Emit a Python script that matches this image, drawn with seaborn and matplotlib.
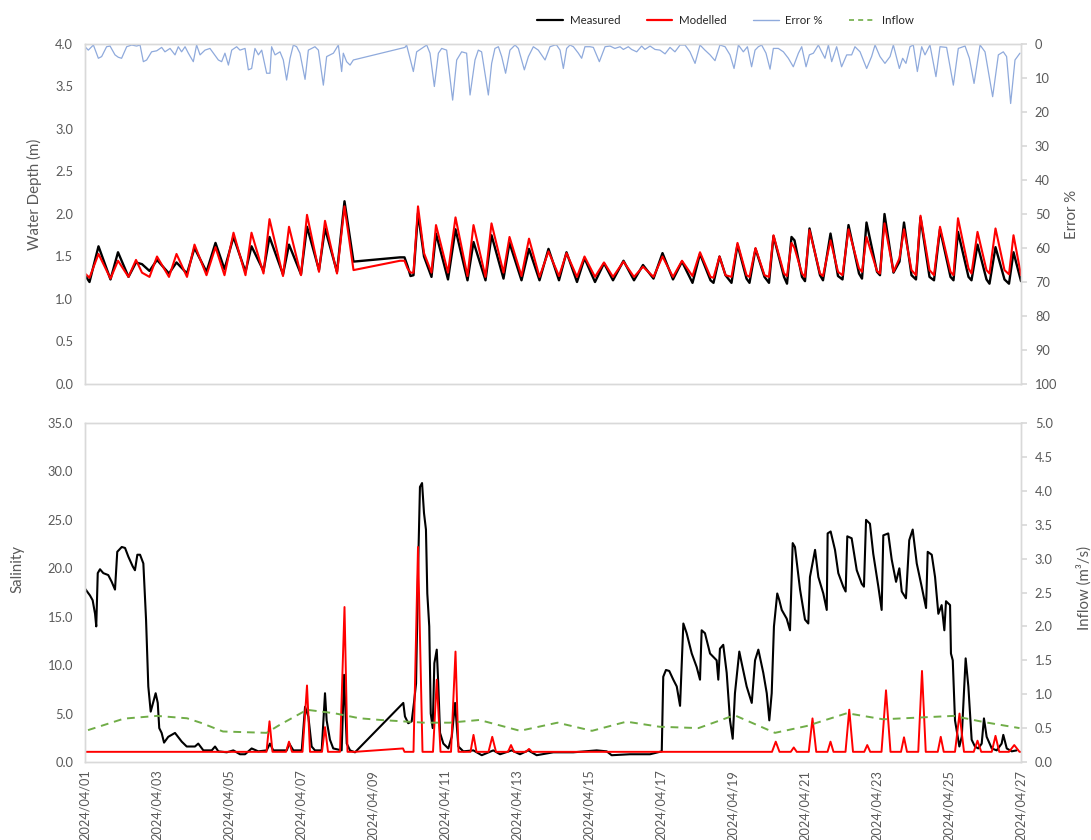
import matplotlib
matplotlib.use("Agg")
import matplotlib.pyplot as plt
import matplotlib.dates as mdates
from matplotlib.lines import Line2D
from matplotlib.ticker import FormatStrFormatter, MultipleLocator
import numpy as np
import pandas as pd
import seaborn as sns

# ---------------------------------------------------------------- data
START = pd.Timestamp("2024-04-01")
END = pd.Timestamp("2024-04-27")

# Water depth (m): hours since 2024/04/01 00:00
depth_hours = [
    0, 3, 9, 17, 22, 29, 34, 38, 43, 48,
    56, 61, 68, 73, 81, 87, 93, 99, 107, 111,
    119, 123, 132, 136, 144, 148, 156, 160, 168, 173,
    179,
    210, 213, 215, 217, 219, 222, 226, 231, 234, 242,
    247, 255, 259, 267, 271, 279, 283, 291, 296, 303,
    309, 316, 321, 328, 333, 340, 346, 352, 359, 366,
    372, 379, 385, 392, 398, 405, 410,
    417, 419, 423, 427, 431, 435, 441, 443, 447, 453,
    456, 459, 466, 468, 471, 473, 478, 480, 483, 490,
    492, 497, 502, 505, 509, 516, 518, 521, 528, 530,
    533, 539, 543, 546, 551, 554, 557, 563, 566, 570,
    577, 579, 582, 589, 591, 595, 601, 603, 607, 613,
    616, 619, 624,
]
depth_measured = [
    1.28, 1.20, 1.62, 1.23, 1.55, 1.26, 1.43, 1.41, 1.33, 1.46,
    1.30, 1.43, 1.30, 1.60, 1.32, 1.66, 1.35, 1.73, 1.32, 1.62,
    1.33, 1.73, 1.29, 1.64, 1.29, 1.85, 1.34, 1.83, 1.32, 2.15,
    1.44,
    1.49, 1.49, 1.39, 1.27, 1.28, 2.01, 1.50, 1.26, 1.77, 1.23,
    1.82, 1.22, 1.67, 1.22, 1.75, 1.24, 1.66, 1.22, 1.59, 1.22,
    1.59, 1.22, 1.55, 1.20, 1.48, 1.20, 1.42, 1.22, 1.45, 1.22,
    1.40, 1.24, 1.54, 1.23, 1.44, 1.19, 1.53,
    1.22, 1.19, 1.50, 1.28, 1.19, 1.64, 1.24, 1.19, 1.59, 1.26,
    1.19, 1.74, 1.26, 1.18, 1.73, 1.69, 1.26, 1.21, 1.83, 1.28,
    1.22, 1.77, 1.27, 1.23, 1.87, 1.30, 1.24, 1.90, 1.32, 1.28,
    2.00, 1.31, 1.44, 1.90, 1.28, 1.23, 1.96, 1.26, 1.22, 1.82,
    1.26, 1.22, 1.79, 1.26, 1.22, 1.64, 1.23, 1.18, 1.61, 1.23,
    1.18, 1.55, 1.21,
]
depth_modelled = [
    1.30, 1.25, 1.53, 1.24, 1.45, 1.26, 1.46, 1.31, 1.26, 1.50,
    1.26, 1.53, 1.26, 1.64, 1.28, 1.61, 1.28, 1.78, 1.28, 1.78,
    1.30, 1.94, 1.27, 1.85, 1.28, 1.99, 1.32, 1.92, 1.30, 2.09,
    1.34,
    1.45, 1.45, 1.36, 1.31, 1.31, 2.09, 1.54, 1.31, 1.87, 1.31,
    1.96, 1.27, 1.87, 1.26, 1.89, 1.31, 1.73, 1.27, 1.71, 1.26,
    1.56, 1.27, 1.54, 1.26, 1.50, 1.26, 1.43, 1.26, 1.44, 1.26,
    1.38, 1.26, 1.50, 1.26, 1.45, 1.27, 1.55,
    1.26, 1.25, 1.50, 1.28, 1.26, 1.66, 1.28, 1.26, 1.60, 1.28,
    1.26, 1.75, 1.30, 1.27, 1.66, 1.60, 1.30, 1.26, 1.81, 1.30,
    1.27, 1.69, 1.32, 1.28, 1.82, 1.36, 1.32, 1.73, 1.33, 1.30,
    1.89, 1.32, 1.48, 1.82, 1.34, 1.28, 1.98, 1.34, 1.28, 1.85,
    1.32, 1.28, 1.95, 1.36, 1.30, 1.79, 1.34, 1.30, 1.83, 1.34,
    1.29, 1.75, 1.28,
]

# Depth error (%)
error_hours = [
    0, 2.2, 5.6, 8.9, 11.1, 14.4, 16.7, 20, 22.2, 24.4,
    27.8, 31.1, 34.4, 36.7, 38.9, 41.1, 44.4, 47.8, 51.1, 53.3,
    56.7, 60, 62.2, 64.4, 66.7, 68.9, 72.2, 74.4, 76.7, 80,
    83.3, 85.6, 88.9, 91.1, 93.3, 95.6, 97.8, 101.1, 103.3, 106.7,
    108.9, 111.1, 113.3, 115.6, 117.8, 121.1, 123.3, 124.4, 126.7, 130,
    132.2, 134.4, 136.7, 138.9, 141.1, 143.3, 146.7, 148.9, 153.3, 155.6,
    158.9, 161.1, 163.3, 165.6, 168.9, 171.1, 172.2, 174.4, 176.7, 178.9,
    213.3, 214.4, 218.9, 221.1, 224.4, 227.8, 230, 232.9, 235.6, 237.8,
    241.1, 245.1, 247.8, 251.1, 254.4, 256.7, 260, 262.2, 264.4, 268.9,
    271.1, 273.3, 275.6, 277.8, 280.4, 283.3, 286.7, 288.9, 292.9, 295.6,
    298.9, 302.2, 306.7, 310, 313.3,
    314.4, 316.7, 318.9, 321.1, 323.3, 325.6, 328.9, 331.1, 333.3, 336.7,
    338.9, 342.9, 346.7, 350, 353.3, 356.7, 358.9, 362.2, 364.4, 367.8,
    371.1, 373.3, 376.7, 380, 383.3, 386.7, 390, 393.3, 396.7, 400,
    403.3, 406.7, 410, 413.3, 416.7, 420, 423.3, 426.7, 430, 432.7,
    435.6, 438.9, 441.6, 444.4, 446.7, 448.9, 451.1, 454, 456.7, 458.9,
    462.2, 465.6, 468.9, 472.2, 475.6, 477.8, 480.7, 482.9, 485.6, 488.9,
    491.1, 493.3, 495.6, 497.8, 501.1, 504.4, 507.8, 511.1, 513.3, 516.7,
    521.1, 524.4, 526.7, 530, 533.3, 536.7, 538.9, 542.9, 545.1, 547.3,
    550, 552.2, 554.9, 557.8, 560, 563.3, 567.3, 570, 574.4, 578.9,
    582.2, 586.7, 589.6, 592.7, 596.7, 600, 605.1, 608.9, 612.2, 614.4,
    617.1, 620, 623.3,
]
error_pct = [
    0.8, 1.8, 0.3, 4.2, 3.7, 0.8, 0.6, 3.2, 3.9, 4.2,
    0.8, 0.3, 0.6, 0.3, 5.2, 4.7, 2.3, 2.0, 1.0, 2.3,
    1.3, 3.2, 0.8, 2.3, 0.8, 2.7, 5.2, 0.3, 3.2, 1.8,
    1.3, 2.7, 4.7, 5.2, 2.7, 6.2, 1.8, 0.8, 1.8, 1.3,
    7.6, 7.2, 1.3, 3.2, 1.8, 8.6, 8.6, 0.8, 3.2, 2.3,
    4.7, 10.6, 4.2, 0.3, 0.8, 2.7, 10.4, 1.8, 0.8, 1.8,
    12.1, 3.7, 3.2, 2.7, 0.3, 8.1, 2.7, 5.2, 6.2, 4.7,
    1.0, 0.3, 8.1, 2.3, 1.3, 0.3, 2.7, 12.5, 2.7, 1.3,
    1.8, 16.5, 4.7, 2.3, 2.7, 15.0, 4.7, 1.8, 2.3, 15.0,
    5.7, 1.3, 0.8, 3.7, 8.6, 1.8, 0.3, 1.3, 7.6, 3.7,
    0.8, 1.8, 4.7, 0.8, 0.3,
    0.3, 1.8, 7.2, 1.3, 0.3, 0.8, 2.7, 4.2, 0.8, 0.8,
    1.0, 5.2, 0.8, 0.6, 1.3, 0.8, 1.6, 0.8, 1.6, 2.3,
    0.6, 1.6, 0.6, 1.6, 1.8, 2.9, 1.0, 2.3, 0.3, 0.3,
    2.3, 5.7, 0.3, 1.8, 3.2, 4.9, 0.3, 0.8, 3.2, 7.2,
    0.3, 2.3, 0.8, 6.7, 1.8, 0.8, 0.3, 2.7, 7.4, 1.3,
    1.3, 2.3, 4.2, 6.7, 2.7, 0.8, 6.7, 3.2, 2.7, 0.3,
    2.3, 4.2, 0.3, 5.2, 0.8, 6.7, 3.2, 3.2, 0.8, 2.3,
    7.2, 3.7, 0.3, 3.7, 5.7, 3.7, 0.3, 7.2, 4.2, 5.7,
    0.8, 0.3, 8.1, 0.8, 3.2, 0.3, 9.6, 0.8, 1.0, 12.1,
    1.3, 0.6, 4.2, 11.6, 0.3, 2.3, 15.5, 3.2, 2.3, 3.7,
    17.5, 4.7, 2.7,
]

# Salinity, measured
sal_meas_hours = [
    0, 3.3, 5.1, 6.7, 7.5, 8.5, 10, 12.2, 15.5, 17.8,
    20, 21.5, 24.5, 26.7, 28.9, 31.8, 33.3, 34.9, 36.7, 38.9,
    40.7, 42.2, 43.8, 45.5, 47.1, 48.5, 49.5, 51.1, 52.7, 55.5,
    60, 64.5, 67.8, 73.3, 75.5, 78.9, 84.5, 86.7, 88.9, 94.5,
    98.9, 103.3, 106.7, 111.1, 115.5, 121.1, 123.3, 125.5, 134.5, 136.2,
    138.9, 144.5, 146.7, 148.9, 151.1, 153.3, 157.8, 160, 161.1, 163.3,
    165.5, 171.1, 172.7, 174.5, 176.7, 180, 212.2, 213.3, 215.5, 217.8,
    219.3, 220.7, 222.2, 223.3, 224.7, 226, 227.3, 228.2, 229.5, 230.5,
    231.8, 232.9, 234.5, 235.5, 236.7, 238.9, 242.2, 244.5, 246.7, 248.9,
    252.2, 258.9, 264.5, 272.2, 276.7, 284.5, 290, 295.5, 301.1, 312.2,
    325.5, 341.1, 347.8, 351.1, 363.3, 376.7, 384.5, 385.5, 387.3, 389.5,
    392.2, 394.5, 396.7, 398.9, 401.1, 404.5, 407.8, 410, 411.1, 413.3,
    416.7, 421.1, 422.2, 423.3, 425.5, 427.8, 430, 431.8, 433.3, 436.2,
    437.8, 441.1, 444.5, 446.7, 448.9, 452.2, 454.5, 456.2, 457.8, 459.3,
    461.5, 462.9, 464.5, 467.8, 470, 471.8, 473.3, 476.7, 480, 482.2,
    483.3, 485.5, 486.7, 488.9, 492.2, 494.5, 495.1, 497.1, 500, 502.2,
    505.5, 507.1, 508.2, 511.1, 514.5, 517.8, 519.3, 520.7, 523.3, 525.5,
    528.9, 531.1, 532.2, 535.5, 537.8, 540.7, 542.9, 544.5, 547.3, 549.5,
    551.8, 554.5, 557.8, 560.7, 561.8, 564.5, 566.7, 568.9, 571.1, 572.9,
    574, 576.7, 577.3, 578.5, 580, 582.9, 584.5, 587.1, 588.9, 591.1,
    593.3, 595.5, 597.8, 599.3, 601.1, 604.5, 607.8, 611.1, 612.2, 614.5,
    617.8, 621.1,
]
sal_measured = [
    17.9, 17.2, 16.7, 15.3, 14.0, 19.5, 19.9, 19.5, 19.3, 18.6,
    17.8, 21.7, 22.2, 22.1, 21.2, 20.2, 19.8, 21.4, 21.4, 20.5,
    14.7, 7.8, 5.2, 6.2, 7.1, 6.1, 3.5, 3.0, 2.0, 2.6,
    3.0, 2.1, 1.6, 1.6, 1.9, 1.2, 1.2, 1.6, 1.1, 1.0,
    1.2, 0.8, 0.8, 1.4, 1.1, 1.2, 1.9, 1.2, 1.2, 1.9,
    1.2, 1.2, 5.7, 4.7, 1.6, 1.2, 1.2, 7.1, 4.3, 2.3,
    1.4, 1.2, 9.0, 1.9, 1.2, 1.0, 6.1, 4.7, 4.0, 4.2,
    6.1, 8.1, 20.9, 28.4, 28.8, 25.7, 24.0, 17.4, 14.0, 5.0,
    3.5, 10.2, 11.6, 8.1, 3.0, 1.9, 1.4, 2.6, 6.1, 1.6,
    1.1, 1.2, 0.7, 1.2, 0.8, 1.2, 0.8, 1.2, 0.7, 1.0,
    1.0, 1.2, 1.1, 0.7, 0.8, 0.8, 1.1, 8.8, 9.5, 9.4,
    8.5, 7.8, 5.8, 14.3, 13.3, 11.2, 9.8, 8.5, 13.6, 13.3,
    11.2, 10.5, 8.5, 11.7, 12.1, 9.2, 4.3, 2.4, 7.1, 11.4,
    10.2, 7.8, 6.1, 10.5, 11.6, 9.2, 7.1, 4.3, 7.1, 14.0,
    17.4, 16.7, 15.7, 14.8, 13.6, 22.6, 22.2, 17.8, 14.7, 14.3,
    19.1, 20.9, 21.9, 19.1, 17.4, 15.7, 23.6, 23.8, 21.9, 19.5,
    18.1, 17.6, 23.3, 23.1, 19.8, 18.4, 18.1, 25.0, 24.6, 21.5,
    18.1, 15.7, 23.4, 23.6, 20.9, 18.6, 20.0, 17.6, 16.9, 22.9,
    24.0, 20.5, 18.1, 15.9, 21.7, 21.4, 19.1, 15.3, 16.2, 13.6,
    16.6, 16.2, 11.2, 10.5, 4.3, 1.6, 2.6, 10.7, 7.8, 2.3,
    1.6, 1.4, 1.9, 4.5, 2.6, 1.4, 1.2, 1.9, 2.8, 1.4,
    1.1, 1.2,
]

# Salinity, modelled
sal_model_hours = [
    0, 121, 123, 125, 134, 136, 138, 145, 148, 150,
    158, 160, 162, 170, 173, 175, 180, 212, 213, 219,
    222, 225, 232, 234.5, 237, 244, 247, 249, 257, 259,
    261, 269, 271.5, 274, 282, 284, 286, 294, 296, 298,
    458, 460.5, 463, 470.5, 472.5, 474.5, 482.5, 485, 487.5, 495,
    497, 499, 507, 509.5, 512, 519.5, 521.5, 523.5, 531, 534,
    537, 544, 546, 548, 555.5, 558, 560.5, 568.5, 570.5, 572.5,
    580, 583, 586, 592.5, 595, 597.5, 604.5, 607, 609.5, 616,
    619.5, 623, 624,
]
sal_modelled = [
    1.05, 1.05, 4.2, 1.05, 1.05, 2.1, 1.05, 1.05, 7.9, 1.05,
    1.05, 3.6, 1.05, 1.05, 16.0, 1.05, 1.05, 1.4, 1.05, 1.05,
    22.2, 1.05, 1.05, 8.5, 1.05, 1.05, 11.4, 1.05, 1.05, 2.8,
    1.05, 1.05, 2.6, 1.05, 1.05, 1.75, 1.05, 1.05, 1.35, 1.05,
    1.05, 2.1, 1.05, 1.05, 1.5, 1.05, 1.05, 4.5, 1.05, 1.05,
    2.1, 1.05, 1.05, 5.4, 1.05, 1.05, 1.75, 1.05, 1.05, 7.4,
    1.05, 1.05, 2.55, 1.05, 1.05, 9.4, 1.05, 1.05, 2.6, 1.05,
    1.05, 5.0, 1.05, 1.05, 2.2, 1.05, 1.05, 2.7, 1.05, 1.05,
    1.75, 1.05, 1.05,
]

# Inflow (m3/s)
inflow_hours = [2, 26, 48, 68, 77, 92, 121, 130, 148, 166,
                183, 197, 226, 243, 263, 290, 315, 338, 361, 383,
                409, 433, 460, 481, 508, 532, 579, 599, 623]
inflow = [0.47, 0.64, 0.68, 0.645, 0.58, 0.45, 0.43, 0.55, 0.77, 0.72,
          0.645, 0.62, 0.58, 0.58, 0.62, 0.46, 0.58, 0.46, 0.595, 0.52,
          0.50, 0.69, 0.43, 0.53, 0.72, 0.63, 0.68, 0.59, 0.50]


def frame(hours, values):
    return pd.DataFrame({
        "time": START + pd.to_timedelta(np.asarray(hours, dtype=float), unit="h"),
        "value": values,
    })


# ---------------------------------------------------------------- style
sns.set_theme(style="white")
plt.rcParams["font.family"] = ["Lato", "DejaVu Sans"]
TEXT = "#595959"
GRID = "#d9d9d9"
C_MEAS = "#000000"
C_MOD = "#ff0000"
C_ERR = "#8faadc"
C_INF = "#70ad47"

W, H = 1091, 840
fig = plt.figure(figsize=(W / 100, H / 100), dpi=100)
left, width = 85 / W, 936 / W
ax_top = fig.add_axes([left, 1 - 384 / H, width, 340 / H])
ax_bot = fig.add_axes([left, 1 - 762 / H, width, 339 / H])
ax_err = ax_top.twinx()
ax_inf = ax_bot.twinx()

kw = dict(x="time", y="value", estimator=None, legend=False)

# upper panel: water depth + error
sns.lineplot(data=frame(depth_hours, depth_measured), ax=ax_top, color=C_MEAS, lw=1.7, **kw)
sns.lineplot(data=frame(depth_hours, depth_modelled), ax=ax_top, color=C_MOD, lw=1.5, **kw)
sns.lineplot(data=frame(error_hours, error_pct), ax=ax_err, color=C_ERR, lw=0.9, **kw)

# lower panel: salinity + inflow
sns.lineplot(data=frame(sal_meas_hours, sal_measured), ax=ax_bot, color=C_MEAS, lw=1.5, **kw)
sns.lineplot(data=frame(sal_model_hours, sal_modelled), ax=ax_bot, color=C_MOD, lw=1.4, **kw)
sns.lineplot(data=frame(inflow_hours, inflow), ax=ax_inf, color=C_INF, lw=1.4,
             linestyle=(0, (4, 3)), **kw)

# ---------------------------------------------------------------- axes
for ax in (ax_top, ax_bot, ax_err, ax_inf):
    ax.set_xlim(START, END)
    ax.set_xlabel("")
    ax.set_ylabel("")
    for sp in ax.spines.values():
        sp.set_color(GRID)
        sp.set_linewidth(1.0)
    ax.tick_params(colors=GRID, labelcolor=TEXT, labelsize=9.3)

day_loc = mdates.DayLocator(bymonthday=range(1, 28, 2))
for ax in (ax_top, ax_bot):
    ax.xaxis.set_major_locator(day_loc)
    ax.tick_params(axis="y", length=0, pad=8.5)

ax_top.xaxis.set_major_formatter(mdates.DateFormatter("%Y/%m/%d"))
ax_top.tick_params(axis="x", direction="in", length=4, labelbottom=False)
ax_bot.xaxis.set_major_formatter(mdates.DateFormatter("%Y/%m/%d"))
ax_bot.tick_params(axis="x", direction="out", length=4, pad=1.5, labelsize=9.2)
for lbl in ax_bot.get_xticklabels():
    lbl.set_rotation(90)

ax_top.set_ylim(0, 4)
ax_top.yaxis.set_major_locator(MultipleLocator(0.5))
ax_top.yaxis.set_major_formatter(FormatStrFormatter("%.1f"))

ax_err.set_ylim(100, 0)
ax_err.yaxis.set_major_locator(MultipleLocator(10))
ax_err.yaxis.set_major_formatter(FormatStrFormatter("%d"))

ax_bot.set_ylim(0, 35)
ax_bot.yaxis.set_major_locator(MultipleLocator(5))
ax_bot.yaxis.set_major_formatter(FormatStrFormatter("%.1f"))

ax_inf.set_ylim(0, 5)
ax_inf.yaxis.set_major_locator(MultipleLocator(0.5))
ax_inf.yaxis.set_major_formatter(FormatStrFormatter("%.1f"))

for ax in (ax_err, ax_inf):
    ax.tick_params(axis="y", direction="out", length=4, pad=6)

# axis titles
titles = [
    (ax_top, "Water Depth (m)", -0.0545, 0.557),
    (ax_bot, "Salinity", -0.0726, 0.57),
    (ax_err, "Error %", 1.055, 0.5),
    (ax_inf, "Inflow (m³/s)", 1.067, 0.513),
]
for ax, text, xa, ya in titles:
    ax.set_ylabel(text, fontsize=10.8, color=TEXT)
    ax.yaxis.set_label_coords(xa, ya)
    ax.yaxis.label.set_verticalalignment("center")
    ax.yaxis.label.set_horizontalalignment("center")

# legend
handles = [
    Line2D([], [], color=C_MEAS, lw=1.6),
    Line2D([], [], color=C_MOD, lw=1.6),
    Line2D([], [], color=C_ERR, lw=1.0),
    Line2D([], [], color=C_INF, lw=1.2, linestyle=(0, (3, 2.5))),
]
fig.legend(handles, ["Measured", "Modelled", "Error %", "Inflow"],
           loc="center", bbox_to_anchor=(0.665, 0.975), ncol=4, frameon=False,
           fontsize=8.3, handlelength=2.2, handletextpad=0.6, columnspacing=2.3,
           borderpad=0, labelcolor="#262626")

fig.savefig("out.png", dpi=100)
